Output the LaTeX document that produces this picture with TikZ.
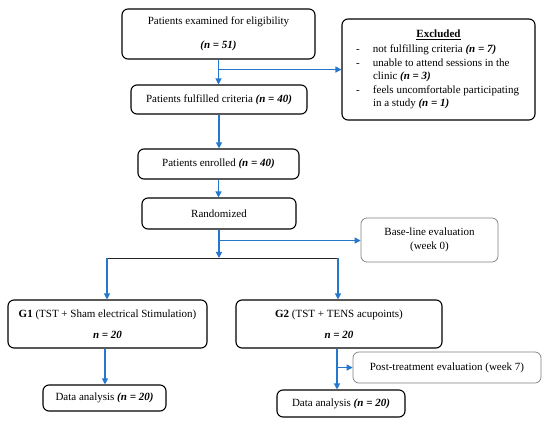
\documentclass[tikz,border=0pt]{standalone}
\usepackage{fontspec}
\setmainfont{Liberation Serif}
\usetikzlibrary{arrows.meta,calc}
\definecolor{flowblue}{RGB}{35,120,205}
\begin{document}
\begin{tikzpicture}[x=1pt,y=-1pt,font=\fontsize{11}{13.5}\selectfont,
  box/.style={draw=black,line width=1.1pt,rounded corners=6pt,align=center,inner sep=0pt},
  gbox/.style={draw=black!50,line width=0.7pt,rounded corners=6pt,align=center,inner sep=0pt},
  arr/.style={draw=flowblue,line width=1.2pt,-{Triangle[width=6pt,length=6pt]}},
  gline/.style={draw=black!85,line width=0.8pt}]
\useasboundingbox (0,0) rectangle (550,425);

\node[box,minimum width=193pt,minimum height=50pt] (b1) at (218.5,34)
  {Patients examined for eligibility\\[10.5pt]\textbf{\textit{(n = 51)}}};
\node[box,minimum width=176pt,minimum height=29pt] (b2) at (219,99.5)
  {Patients fulfilled criteria \textbf{\textit{(n = 40)}}};
\node[box,minimum width=161pt,minimum height=30pt] (b3) at (218.5,164)
  {Patients enrolled \textbf{\textit{(n = 40)}}};
\node[box,minimum width=154pt,minimum height=31pt] (b4) at (219,213.5)
  {Randomized};
\node[box,minimum width=193pt,minimum height=101pt,text width=165pt,align=none] (ex) at (438.5,69.5)
  {\parindent=0pt{\centering\underline{\textbf{Excluded}}\par}\vspace{2pt}\raggedright
   \makebox[17pt][l]{-}not fulfilling criteria \textbf{\textit{(n = 7)}}\par
   \makebox[17pt][l]{-}unable to attend sessions in the\par
   \hspace*{17pt}clinic \textbf{\textit{(n = 3)}}\par
   \makebox[17pt][l]{-}feels uncomfortable participating\par
   \hspace*{17pt}in a study \textbf{\textit{(n = 1)}}\par};
\node[gbox,minimum width=137pt,minimum height=44pt] (base) at (429.5,240)
  {Base-line evaluation\\(week 0)};
\node[box,minimum width=199pt,minimum height=48pt] (g1) at (107.5,324)
  {\textbf{G1} (TST + Sham electrical Stimulation)\\[7.5pt]\textbf{\textit{n = 20}}};
\node[box,minimum width=206pt,minimum height=48pt] (g2) at (339,324)
  {\textbf{G2} (TST + TENS acupoints)\\[7.5pt]\textbf{\textit{n = 20}}};
\node[box,minimum width=123pt,minimum height=26pt] (da1) at (104.5,398)
  {Data analysis \textbf{\textit{(n = 20)}}};
\node[gbox,minimum width=188pt,minimum height=31pt] (post) at (447,367.5)
  {\raisebox{2pt}{Post-treatment evaluation (week 7)}};
\node[box,minimum width=128pt,minimum height=27pt] (da2) at (341,403.5)
  {Data analysis \textbf{\textit{(n = 20)}}};

% connectors
\draw[arr] (b1.south) -- (b1.south |- b2.north);
\path (b1.south) ++(0,10) coordinate (j1);
\draw[arr] (j1) -- (j1 -| ex.west);
\draw[arr] (b2.south) -- (b2.south |- b3.north);
\draw[arr] (b3.south) -- (b3.south |- b4.north);
\coordinate (sL) at (107,258);
\coordinate (sR) at (338,258);
\draw[gline] (sL) -- (sR);
\draw[arr] (b4.south) -- (b4.south |- sL);
\path (b4.south) ++(0,11) coordinate (j2);
\draw[arr] (j2) -- (j2 -| base.west);
\draw[arr] (sL) -- (sL |- g1.north);
\draw[arr] (sR) -- (sR |- g2.north);
\path (g1.south) ++(-2.5,0) coordinate (g1d);
\draw[arr] (g1d) -- (g1d |- da1.north);
\path (g2.south) ++(-2,0) coordinate (g2d);
\draw[arr] (g2d) -- (g2d |- da2.north);
\path (g2d) ++(0,19) coordinate (j3);
\draw[arr] (j3) -- (j3 -| post.west);
\end{tikzpicture}
\end{document}
